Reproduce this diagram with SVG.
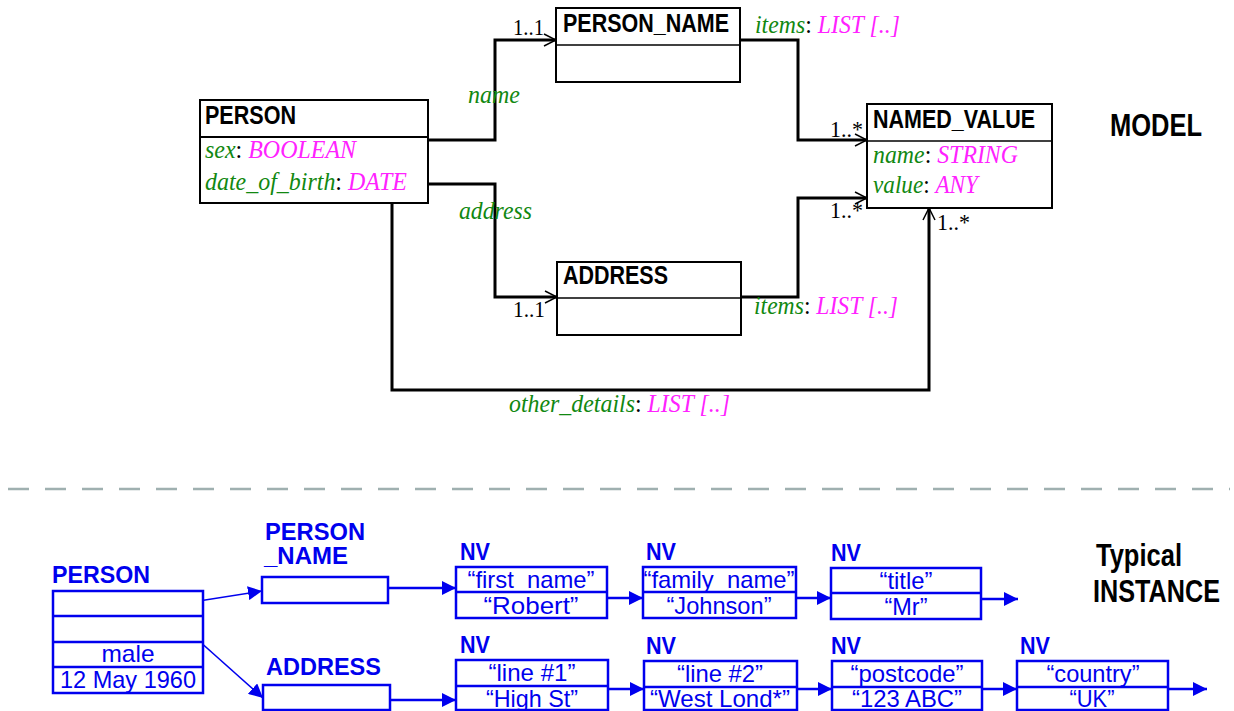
<svg xmlns="http://www.w3.org/2000/svg" width="1234" height="711" viewBox="0 0 1234 711">
<style>
.box{fill:#fff;stroke:#000;stroke-width:2}
.hdr{font-family:"Liberation Sans",Arial,sans-serif;font-weight:bold;font-size:26px;fill:#000}
.big{font-family:"Liberation Sans",Arial,sans-serif;font-weight:bold;font-size:31px;fill:#000}
.it{font-family:"Liberation Serif","Times New Roman",serif;font-style:italic;font-size:25px}
.g{fill:#118811}
.m{fill:#ff22ff}
.k{fill:#000;font-style:normal}
.mult{font-family:"Liberation Serif","Times New Roman",serif;font-size:24px;fill:#000}
.conn{fill:none;stroke:#000;stroke-width:3}
.sep{stroke:#9fb0b0;stroke-width:2.5;stroke-dasharray:21 16}
.ib{fill:#fff;stroke:#0000ee;stroke-width:2.5}
.il{fill:none;stroke:#0000ee;stroke-width:2.5}
.ithin{fill:none;stroke:#0000ee;stroke-width:1.6}
.ihdr{font-family:"Liberation Sans",Arial,sans-serif;font-weight:bold;font-size:23px;fill:#0000ee}
.itx{font-family:"Liberation Sans",Arial,sans-serif;font-size:24px;fill:#0000ee;text-anchor:middle}
</style>
<defs>
<marker id="open" viewBox="0 0 14 14" refX="13" refY="7" markerWidth="14" markerHeight="14" markerUnits="userSpaceOnUse" orient="auto">
<path d="M1,1 L13,7 L1,13" fill="none" stroke="#000" stroke-width="1.5"/>
</marker>
<marker id="fill" viewBox="0 0 14 14" refX="14" refY="7" markerWidth="14" markerHeight="14" markerUnits="userSpaceOnUse" orient="auto">
<path d="M0,0 L14,7 L0,14 Z" fill="#0000ee"/>
</marker>
</defs>
<rect width="1234" height="711" fill="#fff"/>

<!-- MODEL connectors -->
<g id="model-connectors">
<path class="conn" d="M428,140 H495 V40 H556" marker-end="url(#open)"/>
<path class="conn" d="M428,184 H495 V297 H557" marker-end="url(#open)"/>
<path class="conn" d="M737,40 H798 V140 H867" marker-end="url(#open)"/>
<path class="conn" d="M741,297 H798 V198 H867" marker-end="url(#open)"/>
<path class="conn" d="M392,203 V390 H929 V208" marker-end="url(#open)"/>
<text class="it g" x="468" y="103" textLength="52" lengthAdjust="spacingAndGlyphs">name</text>
<text class="it g" x="459" y="219" textLength="73" lengthAdjust="spacingAndGlyphs">address</text>
<text class="mult" x="513" y="35" textLength="31" lengthAdjust="spacingAndGlyphs">1..1</text>
<text class="mult" x="513" y="317" textLength="32" lengthAdjust="spacingAndGlyphs">1..1</text>
<text class="mult" x="830" y="137" textLength="33" lengthAdjust="spacingAndGlyphs">1..*</text>
<text class="mult" x="830" y="218" textLength="33" lengthAdjust="spacingAndGlyphs">1..*</text>
<text class="mult" x="937" y="230" textLength="33" lengthAdjust="spacingAndGlyphs">1..*</text>
<text class="it" x="755" y="33" textLength="145" lengthAdjust="spacingAndGlyphs"><tspan class="g">items</tspan><tspan class="k">: </tspan><tspan class="m">LIST [..]</tspan></text>
<text class="it" x="754" y="314" textLength="144" lengthAdjust="spacingAndGlyphs"><tspan class="g">items</tspan><tspan class="k">: </tspan><tspan class="m">LIST [..]</tspan></text>
<text class="it" x="509" y="412" textLength="221" lengthAdjust="spacingAndGlyphs"><tspan class="g">other_details</tspan><tspan class="k">: </tspan><tspan class="m">LIST [..]</tspan></text>
</g>

<g id="person">
<rect class="box" x="200" y="100" width="228" height="103"/>
<line x1="200" y1="137" x2="428" y2="137" stroke="#000" stroke-width="2"/>
<text class="hdr" x="205" y="124" textLength="91" lengthAdjust="spacingAndGlyphs">PERSON</text>
<text class="it" x="205" y="158" textLength="151" lengthAdjust="spacingAndGlyphs"><tspan class="g">sex</tspan><tspan class="k">: </tspan><tspan class="m">BOOLEAN</tspan></text>
<text class="it" x="205" y="190" textLength="202" lengthAdjust="spacingAndGlyphs"><tspan class="g">date_of_birth</tspan><tspan class="k">: </tspan><tspan class="m">DATE</tspan></text>
</g>

<g id="person_name">
<rect class="box" x="556" y="8" width="184" height="74" stroke-width="1.6"/>
<line x1="556" y1="45" x2="740" y2="45" stroke="#000" stroke-width="1.6"/>
<text class="hdr" x="563" y="32" textLength="166" lengthAdjust="spacingAndGlyphs">PERSON_NAME</text>
</g>

<g id="address">
<rect class="box" x="557" y="262" width="184" height="73" stroke-width="1.6"/>
<line x1="557" y1="298" x2="741" y2="298" stroke="#000" stroke-width="1.6"/>
<text class="hdr" x="563" y="284" textLength="105" lengthAdjust="spacingAndGlyphs">ADDRESS</text>
</g>

<g id="named_value">
<rect class="box" x="867" y="104" width="185" height="104" stroke-width="1.6"/>
<line x1="867" y1="141" x2="1052" y2="141" stroke="#000" stroke-width="1.6"/>
<text class="hdr" x="873" y="128" textLength="162" lengthAdjust="spacingAndGlyphs">NAMED_VALUE</text>
<text class="it" x="873" y="163" textLength="145" lengthAdjust="spacingAndGlyphs"><tspan class="g">name</tspan><tspan class="k">: </tspan><tspan class="m">STRING</tspan></text>
<text class="it" x="873" y="193" textLength="105" lengthAdjust="spacingAndGlyphs"><tspan class="g">value</tspan><tspan class="k">: </tspan><tspan class="m">ANY</tspan></text>
</g>

<text class="big" x="1110" y="136" textLength="92" lengthAdjust="spacingAndGlyphs">MODEL</text>

<line class="sep" x1="8" y1="489" x2="1230" y2="489"/>

<!-- INSTANCE -->
<g id="instance-connectors">
<path class="ithin" d="M186,603 L262,591" marker-end="url(#fill)"/>
<path class="ithin" d="M189,632 L263,698" marker-end="url(#fill)"/>
<path class="il" d="M369,588 H456" marker-end="url(#fill)"/>
<path class="il" d="M371,700 H456" marker-end="url(#fill)"/>
<path class="il" d="M607,598 H643" marker-end="url(#fill)"/>
<path class="il" d="M796,598 H831" marker-end="url(#fill)"/>
<path class="il" d="M981,599 H1018" marker-end="url(#fill)"/>
<path class="il" d="M608,689 H644" marker-end="url(#fill)"/>
<path class="il" d="M797,689 H832" marker-end="url(#fill)"/>
<path class="il" d="M982,689 H1017" marker-end="url(#fill)"/>
<path class="il" d="M1168,689 H1207" marker-end="url(#fill)"/>
</g>

<g id="i-person">
<text class="ihdr" x="52" y="583" textLength="98" lengthAdjust="spacingAndGlyphs">PERSON</text>
<rect class="ib" x="53" y="591" width="150" height="102"/>
<line class="il" x1="53" y1="616" x2="203" y2="616"/>
<line class="il" x1="53" y1="642" x2="203" y2="642"/>
<line class="il" x1="53" y1="667" x2="203" y2="667"/>
<text class="itx" x="128" y="662" font-size="25" textLength="53" lengthAdjust="spacingAndGlyphs">male</text>
<text class="itx" x="128" y="688" font-size="25" textLength="136" lengthAdjust="spacingAndGlyphs">12 May 1960</text>
</g>

<g id="i-person_name">
<text class="ihdr" x="265" y="540" textLength="100" lengthAdjust="spacingAndGlyphs">PERSON</text>
<text class="ihdr" x="264" y="564" textLength="84" lengthAdjust="spacingAndGlyphs">_NAME</text>
<rect class="ib" x="262" y="577" width="126" height="26"/>
</g>

<g id="i-address">
<text class="ihdr" x="266" y="675" textLength="115" lengthAdjust="spacingAndGlyphs">ADDRESS</text>
<rect class="ib" x="263" y="685" width="127" height="25"/>
</g>

<g id="nv1">
<text class="ihdr" x="460" y="560" textLength="30" lengthAdjust="spacingAndGlyphs">NV</text>
<rect class="ib" x="456" y="567" width="151" height="51"/>
<line class="il" x1="456" y1="592" x2="607" y2="592"/>
<text class="itx" x="531" y="588" textLength="127" lengthAdjust="spacingAndGlyphs">“first_name”</text>
<text class="itx" x="531" y="614" textLength="95" lengthAdjust="spacingAndGlyphs">“Robert”</text>
</g>
<g id="nv2">
<text class="ihdr" x="646" y="560" textLength="30" lengthAdjust="spacingAndGlyphs">NV</text>
<rect class="ib" x="643" y="567" width="153" height="51"/>
<line class="il" x1="643" y1="592" x2="796" y2="592"/>
<text class="itx" x="719" y="588" textLength="151" lengthAdjust="spacingAndGlyphs">“family_name”</text>
<text class="itx" x="719" y="614" textLength="105" lengthAdjust="spacingAndGlyphs">“Johnson”</text>
</g>
<g id="nv3">
<text class="ihdr" x="831" y="561" textLength="30" lengthAdjust="spacingAndGlyphs">NV</text>
<rect class="ib" x="831" y="568" width="150" height="51"/>
<line class="il" x1="831" y1="593" x2="981" y2="593"/>
<text class="itx" x="906" y="589" textLength="53" lengthAdjust="spacingAndGlyphs">“title”</text>
<text class="itx" x="906" y="615" textLength="43" lengthAdjust="spacingAndGlyphs">“Mr”</text>
</g>
<g id="nv4">
<text class="ihdr" x="460" y="653" textLength="30" lengthAdjust="spacingAndGlyphs">NV</text>
<rect class="ib" x="456" y="660" width="152" height="50"/>
<line class="il" x1="456" y1="686" x2="608" y2="686"/>
<text class="itx" x="532" y="681" textLength="87" lengthAdjust="spacingAndGlyphs">“line #1”</text>
<text class="itx" x="532" y="707" textLength="92" lengthAdjust="spacingAndGlyphs">“High St”</text>
</g>
<g id="nv5">
<text class="ihdr" x="646" y="654" textLength="30" lengthAdjust="spacingAndGlyphs">NV</text>
<rect class="ib" x="644" y="661" width="153" height="49"/>
<line class="il" x1="644" y1="687" x2="797" y2="687"/>
<text class="itx" x="720" y="682" textLength="86" lengthAdjust="spacingAndGlyphs">“line #2”</text>
<text class="itx" x="720" y="707" textLength="140" lengthAdjust="spacingAndGlyphs">“West Lond*”</text>
</g>
<g id="nv6">
<text class="ihdr" x="831" y="654" textLength="30" lengthAdjust="spacingAndGlyphs">NV</text>
<rect class="ib" x="832" y="661" width="150" height="49"/>
<line class="il" x1="832" y1="687" x2="982" y2="687"/>
<text class="itx" x="907" y="682" textLength="113" lengthAdjust="spacingAndGlyphs">“postcode”</text>
<text class="itx" x="907" y="707" textLength="110" lengthAdjust="spacingAndGlyphs">“123 ABC”</text>
</g>
<g id="nv7">
<text class="ihdr" x="1020" y="654" textLength="30" lengthAdjust="spacingAndGlyphs">NV</text>
<rect class="ib" x="1017" y="661" width="151" height="49"/>
<line class="il" x1="1017" y1="687" x2="1168" y2="687"/>
<text class="itx" x="1093" y="682" textLength="93" lengthAdjust="spacingAndGlyphs">“country”</text>
<text class="itx" x="1092" y="707" textLength="45" lengthAdjust="spacingAndGlyphs">“UK”</text>
</g>

<text class="big" x="1096" y="566" textLength="86" lengthAdjust="spacingAndGlyphs">Typical</text>
<text class="big" x="1093" y="602" textLength="127" lengthAdjust="spacingAndGlyphs">INSTANCE</text>
</svg>
